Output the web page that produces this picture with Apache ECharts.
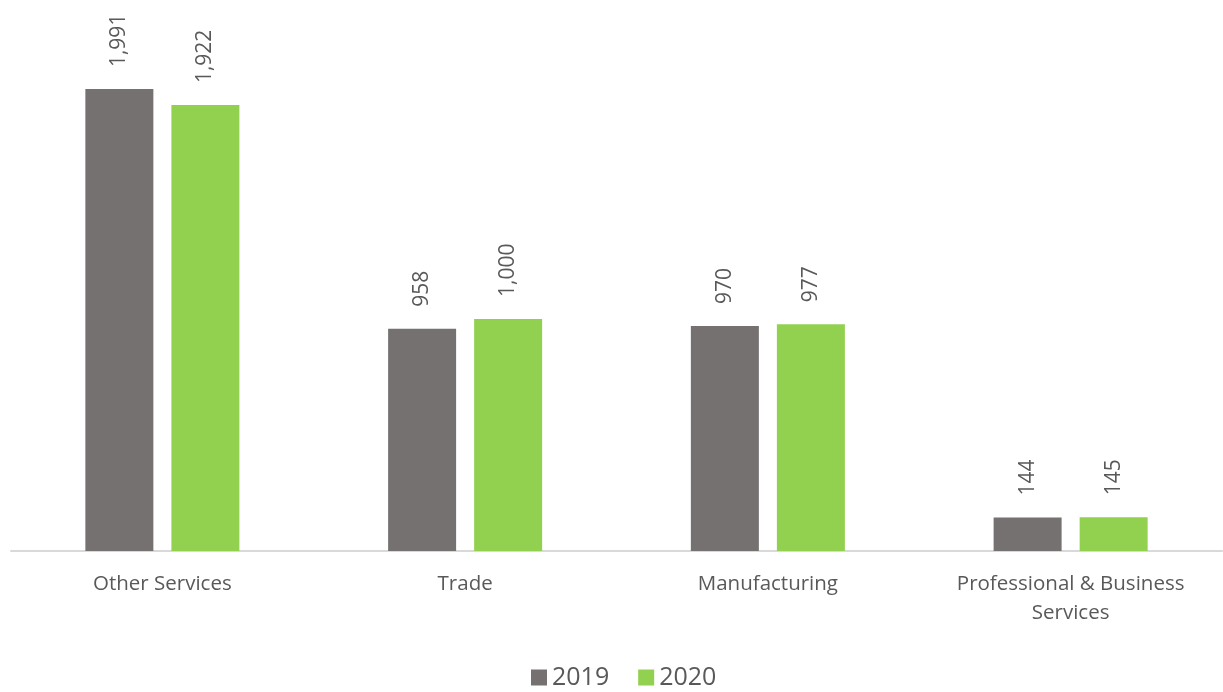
<!DOCTYPE html>
<html>
<head>
<meta charset="utf-8">
<script src="https://cdn.jsdelivr.net/npm/echarts@6/dist/echarts.min.js"></script>
<style>
  html, body { margin: 0; padding: 0; background: #fff; }
  #chart { width: 1223px; height: 692px; }
</style>
</head>
<body>
<div id="chart"></div>
<script>
const categories = ['Other Services', 'Trade', 'Manufacturing', 'Professional & Business\nServices'];
const seriesNames = ['2019', '2020'];
const values2019 = [1991, 958, 970, 144];
const values2020 = [1922, 1000, 977, 145];

const FONT = 'Open Sans';
const TEXT = '#595959';

const chart = echarts.init(document.getElementById('chart'));

function barSeries(name, data, color) {
  return {
    name: name,
    type: 'bar',
    data: data,
    barWidth: 68,
    barGap: '26.5%',
    itemStyle: { color: color },
    label: {
      show: true,
      position: 'top',
      rotate: 90,
      align: 'left',
      verticalAlign: 'middle',
      distance: 22,
      color: TEXT,
      fontFamily: FONT,
      fontSize: 21,
      formatter: p => p.value.toLocaleString('en-US')
    }
  };
}

chart.setOption({
  animation: false,
  textStyle: { fontFamily: FONT },
  grid: { left: 11, right: 1, top: 87, bottom: 141, containLabel: false },
  legend: {
    top: 660,
    left: 526,
    itemWidth: 16,
    itemHeight: 16,
    itemGap: 29,
    itemTextGap: 5,
    icon: 'rect',
    textStyle: { color: TEXT, fontFamily: FONT, fontSize: 25 },
    data: seriesNames
  },
  xAxis: {
    type: 'category',
    data: categories,
    axisLine: { lineStyle: { color: '#D9D9D9', width: 2 } },
    axisTick: { show: false },
    axisLabel: { color: TEXT, fontFamily: FONT, fontSize: 20.5, margin: 19, lineHeight: 29, interval: 0 }
  },
  yAxis: {
    type: 'value',
    min: 0,
    max: 2000,
    show: false,
    splitLine: { show: false }
  },
  series: [
    barSeries(seriesNames[0], values2019, '#757171'),
    barSeries(seriesNames[1], values2020, '#92D050')
  ]
});
</script>
</body>
</html>
